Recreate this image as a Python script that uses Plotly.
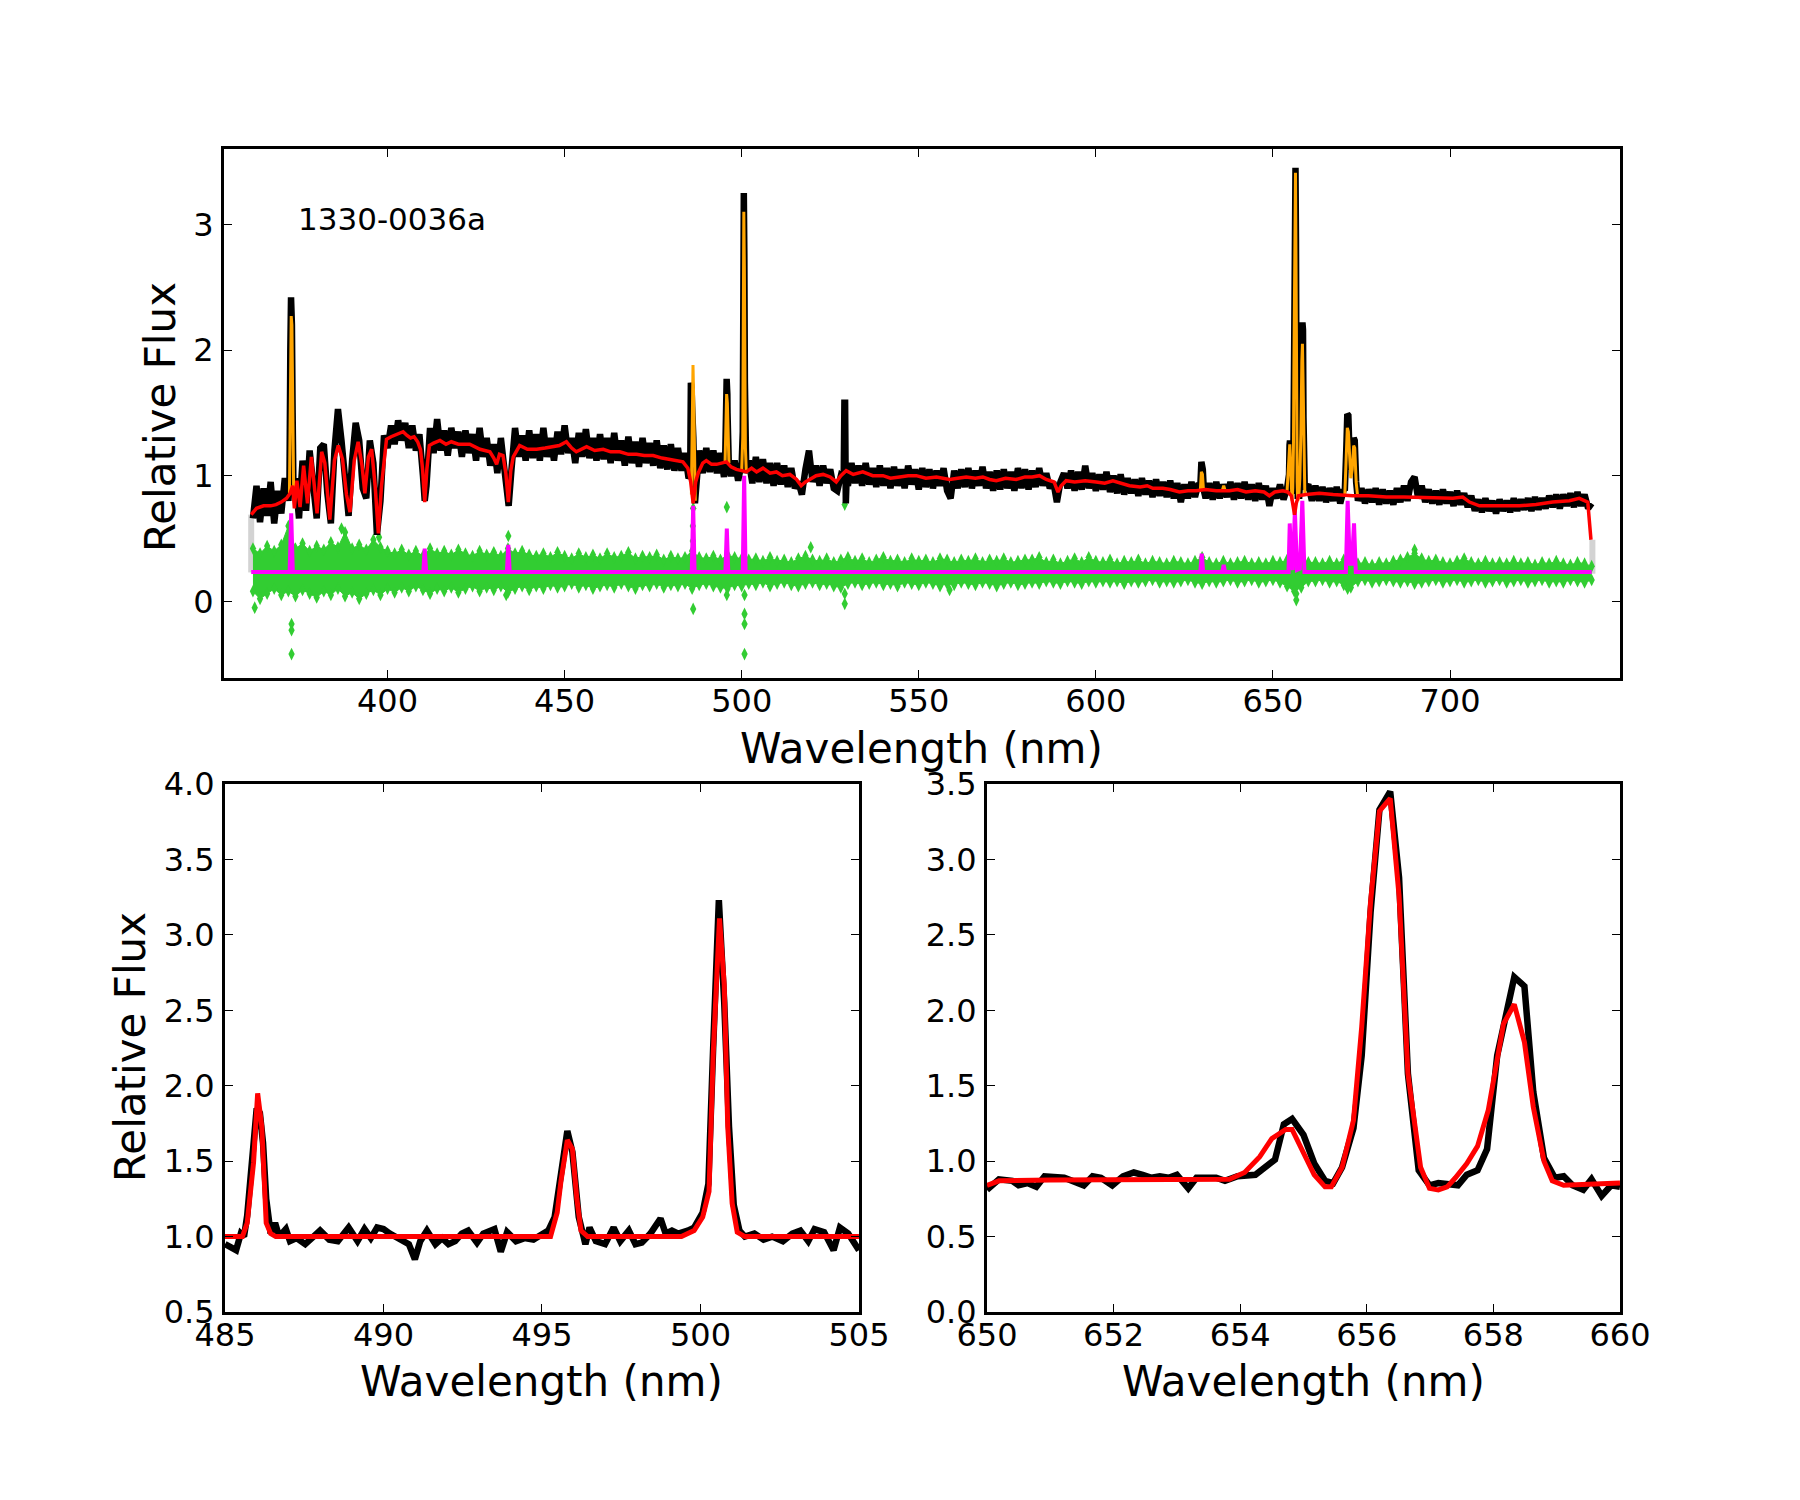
import numpy as np
import plotly.graph_objects as go

# ---------------- TOP PANEL DATA ----------------
# Observed spectrum sampled every 1 nm (row key = first wavelength of the row)
BLACK_ROWS = {
    362: [0.66, 0.92, 0.63, 0.90, 0.68, 0.95, 0.62, 0.88, 0.70, 0.98],
    372: [0.80, 2.20, 0.98, 0.66, 1.12, 0.72, 1.20, 0.88, 0.66, 1.22],
    382: [1.25, 0.86, 0.62, 1.20, 1.53, 1.28, 0.92, 0.68, 1.12, 1.42],
    392: [1.28, 0.90, 0.82, 1.28, 1.10, 0.53, 0.80, 1.32, 1.22, 1.40],
    402: [1.25, 1.44, 1.28, 1.42, 1.22, 1.40, 1.20, 1.33, 1.00, 0.92],
    412: [1.38, 1.18, 1.45, 1.20, 1.36, 1.16, 1.38, 1.22, 1.35, 1.15],
    422: [1.36, 1.18, 1.33, 1.12, 1.38, 1.15, 1.30, 1.08, 1.25, 1.02],
    432: [1.30, 1.05, 0.85, 1.05, 1.38, 1.15, 1.32, 1.12, 1.36, 1.14],
    442: [1.33, 1.12, 1.38, 1.15, 1.30, 1.12, 1.35, 1.17, 1.40, 1.18],
    452: [1.30, 1.10, 1.34, 1.15, 1.37, 1.14, 1.30, 1.12, 1.33, 1.13],
    462: [1.30, 1.10, 1.34, 1.12, 1.28, 1.08, 1.31, 1.10, 1.27, 1.07],
    472: [1.30, 1.10, 1.26, 1.08, 1.28, 1.06, 1.24, 1.05, 1.25, 1.04],
    482: [1.22, 1.04, 1.18, 0.98, 1.55, 0.85, 1.20, 1.02, 1.22, 1.03],
    492: [1.20, 1.02, 1.18, 0.99, 1.50, 1.00, 1.12, 0.96, 1.10, 1.38],
    502: [1.12, 0.94, 1.15, 0.95, 1.13, 0.94, 1.10, 0.92, 1.10, 0.93],
    512: [1.08, 0.91, 1.06, 0.90, 0.95, 0.85, 1.05, 1.20, 0.95, 1.08],
    522: [0.92, 1.08, 0.94, 1.05, 0.90, 0.88, 1.00, 1.58, 0.92, 1.10],
    532: [0.94, 1.08, 0.92, 1.10, 0.93, 1.06, 0.91, 1.08, 0.92, 1.06],
    542: [0.90, 1.07, 0.92, 1.05, 0.90, 1.08, 0.93, 1.05, 0.89, 1.06],
    552: [0.91, 1.05, 0.90, 1.04, 0.92, 1.06, 0.88, 0.82, 1.04, 0.90],
    562: [1.05, 0.91, 1.06, 0.90, 1.04, 0.92, 1.07, 0.90, 1.03, 0.88],
    572: [1.04, 0.89, 1.05, 0.90, 1.03, 0.88, 1.06, 0.90, 1.05, 0.89],
    582: [1.04, 0.91, 1.06, 0.92, 1.02, 0.90, 0.95, 0.79, 0.95, 1.02],
    592: [0.90, 1.04, 0.88, 1.03, 0.89, 1.08, 0.90, 1.02, 0.88, 1.01],
    602: [0.89, 1.03, 0.87, 1.00, 0.86, 1.01, 0.85, 0.98, 0.86, 0.97],
    612: [0.84, 0.98, 0.85, 0.96, 0.83, 0.97, 0.84, 0.95, 0.83, 0.96],
    622: [0.82, 0.94, 0.79, 0.93, 0.82, 0.95, 0.83, 0.94, 1.09, 0.82],
    632: [0.94, 0.81, 0.95, 0.82, 0.93, 0.83, 0.95, 0.81, 0.94, 0.82],
    642: [0.95, 0.81, 0.93, 0.80, 0.94, 0.81, 0.92, 0.76, 0.90, 0.82],
    652: [0.93, 0.81, 0.90, 1.175, 2.20, 0.84, 1.45, 0.89, 0.93, 0.80],
    662: [0.92, 0.80, 0.91, 0.79, 0.90, 0.80, 0.91, 0.78, 0.89, 1.49],
    672: [1.05, 1.29, 0.80, 0.90, 0.78, 0.89, 0.79, 0.90, 0.77, 0.89],
    682: [0.78, 0.88, 0.77, 0.90, 0.79, 0.92, 0.80, 0.95, 0.99, 0.82],
    692: [0.92, 0.79, 0.89, 0.78, 0.88, 0.77, 0.89, 0.78, 0.87, 0.76],
    702: [0.88, 0.77, 0.86, 0.75, 0.84, 0.72, 0.81, 0.71, 0.82, 0.72],
    712: [0.80, 0.70, 0.81, 0.72, 0.80, 0.71, 0.82, 0.72, 0.81, 0.73],
    722: [0.82, 0.72, 0.83, 0.73, 0.82, 0.74, 0.84, 0.75, 0.85, 0.74],
    732: [0.85, 0.76, 0.86, 0.75, 0.87, 0.76, 0.85, 0.74, 0.78],
}

# Sub-nm samples of the observed spectrum through the lines
BLACK_EXTRA = [
    (372.3, 0.90), (372.55, 2.00), (372.75, 2.42), (372.95, 2.40), (373.2, 1.50), (373.45, 0.85),
    (410.5, 0.80), (434.2, 0.76),
    (485.45, 1.00), (485.65, 1.74), (485.85, 1.70), (486.1, 1.50), (486.35, 1.30), (486.6, 0.95), (486.8, 0.78),
    (495.3, 1.08), (495.55, 1.40), (495.75, 1.77), (495.95, 1.65), (496.15, 1.25), (496.4, 1.05),
    (500.3, 1.35), (500.45, 2.30), (500.6, 3.25), (500.75, 2.75), (500.9, 1.75), (501.05, 1.20), (501.3, 1.02),
    (528.8, 0.98), (529.2, 1.58), (529.4, 0.78), (529.6, 0.95),
    (629.5, 0.92), (629.8, 1.11), (630.2, 1.05), (630.5, 0.88),
    (654.3, 0.95), (654.55, 1.01), (654.69, 1.245), (654.82, 1.28), (655.17, 0.985), (655.34, 0.87),
    (655.47, 0.855), (655.61, 0.96), (655.79, 1.22), (655.92, 1.70), (656.06, 2.65), (656.2, 3.33),
    (656.37, 3.45), (656.51, 2.88), (656.65, 1.58), (656.82, 0.94), (657.44, 0.84), (657.75, 0.94),
    (657.9, 1.08), (658.06, 1.70), (658.33, 2.22), (658.49, 2.16), (658.63, 1.46), (658.8, 1.02),
    (670.3, 0.88), (670.7, 1.20), (671.3, 1.48), (671.7, 1.10), (672.4, 1.15), (672.8, 1.30),
    (673.1, 1.28), (673.5, 0.95), (673.9, 0.82),
]

# Stellar continuum fit (red)
RED_TOP = [
    (361.5, 0.69), (363.0, 0.74), (365.0, 0.76), (367.0, 0.76), (368.5, 0.77), (370.0, 0.79),
    (371.5, 0.82), (372.5, 0.86), (373.2, 0.92), (373.7, 0.74), (374.4, 0.96), (375.3, 0.75),
    (376.3, 1.08), (377.4, 0.78), (378.5, 1.15), (380.1, 0.70), (381.4, 1.19), (382.3, 1.10),
    (383.7, 0.65), (385.0, 1.12), (386.1, 1.24), (387.3, 1.13), (388.4, 0.85), (389.4, 0.71),
    (390.6, 1.12), (391.7, 1.27), (392.8, 1.08), (393.6, 0.86), (394.6, 1.15), (395.5, 1.21),
    (396.5, 0.92), (397.4, 0.54), (398.3, 0.92), (399.7, 1.29), (401.0, 1.31), (402.5, 1.33),
    (404.4, 1.35), (405.5, 1.32), (406.5, 1.30), (407.5, 1.31), (408.5, 1.27), (409.3, 1.21),
    (409.9, 1.05), (410.5, 0.79), (411.1, 1.05), (411.8, 1.24), (413.0, 1.26), (414.8, 1.28),
    (416.5, 1.25), (418.0, 1.27), (420.0, 1.25), (423.2, 1.25), (426.1, 1.21), (428.9, 1.19),
    (430.0, 1.14), (430.8, 1.09), (431.6, 1.17), (432.6, 1.16), (433.4, 1.02), (434.1, 0.79),
    (434.8, 1.04), (435.5, 1.15), (437.3, 1.24), (439.5, 1.21), (442.1, 1.21), (444.5, 1.22),
    (446.7, 1.23), (448.5, 1.24), (450.5, 1.27), (452.0, 1.22), (453.3, 1.19), (456.2, 1.23),
    (458.5, 1.20), (460.9, 1.21), (463.0, 1.19), (465.6, 1.19), (468.0, 1.17), (470.3, 1.17),
    (472.5, 1.16), (475.0, 1.16), (477.5, 1.14), (479.7, 1.13), (482.0, 1.12), (483.4, 1.11),
    (484.8, 1.06), (485.6, 0.95), (486.3, 0.78), (487.0, 0.95), (487.7, 1.02), (489.0, 1.10),
    (490.0, 1.12), (491.5, 1.09), (492.9, 1.09), (494.5, 1.10), (495.7, 1.11), (497.0, 1.07),
    (498.5, 1.05), (500.0, 1.04), (501.3, 1.03), (502.8, 1.06), (504.2, 1.03), (506.0, 1.06),
    (508.0, 1.02), (509.8, 1.03), (511.5, 1.00), (513.6, 1.01), (515.5, 0.97), (516.8, 0.92),
    (518.0, 0.95), (519.2, 0.97), (521.0, 1.00), (523.0, 1.01), (525.0, 0.99), (526.7, 0.95),
    (528.0, 1.00), (529.5, 1.04), (531.5, 1.01), (534.2, 1.03), (537.0, 1.00), (539.9, 1.00),
    (542.0, 0.98), (544.6, 0.99), (547.0, 1.00), (549.3, 1.00), (552.0, 0.98), (555.0, 0.99),
    (558.7, 0.97), (561.0, 0.98), (563.4, 0.99), (566.0, 0.98), (568.1, 0.99), (570.0, 0.97),
    (571.9, 0.96), (574.5, 0.98), (577.5, 0.97), (580.0, 0.99), (582.0, 0.99), (584.1, 1.00),
    (586.0, 0.97), (588.2, 0.95), (589.3, 0.87), (590.2, 0.92), (591.6, 0.96), (594.0, 0.95),
    (597.0, 0.96), (600.1, 0.95), (602.5, 0.94), (604.8, 0.96), (607.0, 0.94), (609.5, 0.92),
    (612.5, 0.91), (614.5, 0.92), (616.1, 0.90), (618.9, 0.90), (621.0, 0.89), (623.6, 0.87),
    (626.0, 0.88), (628.3, 0.88), (631.0, 0.89), (634.0, 0.88), (637.7, 0.88), (640.0, 0.89),
    (642.4, 0.87), (645.0, 0.88), (647.5, 0.87), (649.0, 0.84), (650.5, 0.87), (652.8, 0.88),
    (654.2, 0.87), (655.2, 0.84), (655.7, 0.76), (656.1, 0.69), (656.6, 0.78), (657.2, 0.84),
    (659.4, 0.85), (663.1, 0.86), (667.0, 0.85), (672.5, 0.84), (677.0, 0.84), (682.0, 0.83),
    (687.0, 0.83), (691.4, 0.825), (696.0, 0.82), (700.8, 0.82), (703.6, 0.83), (705.5, 0.79),
    (708.3, 0.76), (711.5, 0.76), (714.9, 0.76), (719.6, 0.76), (724.3, 0.77), (729.0, 0.79),
    (733.7, 0.80), (736.5, 0.82), (738.9, 0.79), (739.8, 0.49),
]

# Emission-line model on top of the continuum (orange), one list per line group
ORANGE_SEGMENTS = [
    [(372.3, 0.86), (372.55, 1.70), (372.8, 2.27), (373.0, 2.20), (373.25, 1.40), (373.5, 0.86)],
    [(485.8, 0.85), (486.05, 1.30), (486.25, 1.88), (486.45, 1.60), (486.7, 0.95), (486.9, 0.80)],
    [(495.3, 1.10), (495.55, 1.35), (495.75, 1.65), (495.95, 1.58), (496.15, 1.25), (496.4, 1.10)],
    [(500.0, 1.04), (500.3, 1.30), (500.45, 2.20), (500.6, 3.10), (500.75, 2.67), (500.9, 1.73),
     (501.05, 1.22), (501.3, 1.03)],
    [(629.5, 0.88), (629.8, 1.03), (630.1, 1.01), (630.4, 0.88)],
    [(635.7, 0.88), (636.1, 0.92), (636.5, 0.88)],
    [(654.0, 0.88), (654.3, 1.00), (654.5, 1.15), (654.75, 1.25), (655.0, 1.06), (655.2, 0.88),
     (655.4, 0.80), (655.6, 0.90), (655.8, 1.25), (655.92, 1.85), (656.06, 2.70), (656.2, 3.32),
     (656.37, 3.41), (656.51, 2.76), (656.65, 1.58), (656.85, 0.95), (657.0, 0.80), (657.3, 0.83),
     (657.6, 0.98), (657.9, 1.34), (658.16, 1.91), (658.33, 2.05), (658.49, 1.79), (658.63, 1.36),
     (658.8, 1.00), (659.0, 0.86), (659.3, 0.84)],
    [(670.3, 0.85), (670.7, 1.15), (671.0, 1.38), (671.3, 1.35), (671.7, 1.05), (672.0, 0.98),
     (672.4, 1.05), (672.8, 1.24), (673.1, 1.22), (673.5, 0.95), (673.9, 0.84)],
]

# Emission-line-only model, offset (magenta)
MAGENTA = [
    (361.5, 0.233), (372.35, 0.233), (372.8, 0.70), (373.25, 0.233),
    (410.1, 0.233), (410.5, 0.42), (410.9, 0.233),
    (433.7, 0.233), (434.1, 0.45), (434.5, 0.233),
    (485.9, 0.233), (486.3, 0.76), (486.7, 0.233),
    (495.4, 0.233), (495.8, 0.58), (496.2, 0.233),
    (500.3, 0.233), (500.7, 1.00), (501.1, 0.233),
    (629.5, 0.233), (629.9, 0.38), (630.3, 0.233),
    (635.7, 0.233), (636.1, 0.29), (636.5, 0.233),
    (654.4, 0.233), (654.75, 0.62), (655.2, 0.30), (655.6, 0.25), (656.2, 0.72), (656.8, 0.25),
    (657.6, 0.26), (658.3, 0.80), (658.9, 0.233),
    (670.6, 0.233), (671.1, 0.80), (671.7, 0.30), (672.3, 0.30), (672.9, 0.62), (673.4, 0.233),
    (740.0, 0.233),
]

# Residuals band (green): upper / lower envelope every 2 nm (row key = first wavelength)
GREEN_UPPER = {
    362: [0.42, 0.38, 0.44, 0.40, 0.45, 0.60, 0.42, 0.46, 0.40, 0.44],
    382: [0.41, 0.47, 0.43, 0.55, 0.42, 0.45, 0.41, 0.49, 0.43, 0.40],
    402: [0.38, 0.41, 0.37, 0.40, 0.36, 0.42, 0.38, 0.40, 0.37, 0.41],
    422: [0.38, 0.36, 0.40, 0.37, 0.39, 0.36, 0.42, 0.38, 0.40, 0.37],
    442: [0.36, 0.38, 0.35, 0.39, 0.36, 0.34, 0.38, 0.35, 0.37, 0.34],
    462: [0.38, 0.35, 0.36, 0.39, 0.34, 0.36, 0.35, 0.37, 0.33, 0.36],
    482: [0.34, 0.35, 0.40, 0.35, 0.34, 0.36, 0.33, 0.37, 0.35, 0.34],
    502: [0.33, 0.34, 0.32, 0.35, 0.32, 0.33, 0.31, 0.34, 0.36, 0.33],
    522: [0.32, 0.34, 0.31, 0.33, 0.35, 0.32, 0.34, 0.31, 0.33, 0.35],
    542: [0.32, 0.33, 0.31, 0.34, 0.32, 0.33, 0.31, 0.34, 0.33, 0.31],
    562: [0.33, 0.32, 0.34, 0.31, 0.33, 0.32, 0.34, 0.31, 0.32, 0.33],
    582: [0.33, 0.35, 0.31, 0.33, 0.30, 0.32, 0.34, 0.31, 0.35, 0.32],
    602: [0.31, 0.33, 0.30, 0.32, 0.31, 0.33, 0.30, 0.32, 0.31, 0.30],
    622: [0.32, 0.31, 0.30, 0.32, 0.35, 0.31, 0.30, 0.32, 0.30, 0.31],
    642: [0.32, 0.30, 0.31, 0.30, 0.32, 0.31, 0.33, 0.36, 0.34, 0.31],
    662: [0.31, 0.30, 0.32, 0.30, 0.33, 0.35, 0.30, 0.31, 0.29, 0.31],
    682: [0.30, 0.32, 0.33, 0.35, 0.38, 0.34, 0.32, 0.33, 0.31, 0.30],
    702: [0.32, 0.34, 0.31, 0.30, 0.32, 0.30, 0.31, 0.30, 0.32, 0.30],
    722: [0.31, 0.29, 0.31, 0.30, 0.32, 0.30, 0.29, 0.31, 0.30, 0.28],
}
GREEN_LOWER = {
    362: [0.08, 0.02, 0.06, 0.10, 0.05, 0.08, 0.04, 0.09, 0.06, 0.03],
    382: [0.08, 0.05, 0.10, 0.04, 0.07, 0.02, 0.06, 0.09, 0.05, 0.10],
    402: [0.07, 0.11, 0.08, 0.12, 0.09, 0.06, 0.10, 0.08, 0.11, 0.07],
    422: [0.10, 0.12, 0.08, 0.11, 0.09, 0.12, 0.07, 0.10, 0.12, 0.09],
    442: [0.12, 0.10, 0.13, 0.11, 0.12, 0.14, 0.11, 0.13, 0.10, 0.12],
    462: [0.13, 0.11, 0.14, 0.12, 0.10, 0.13, 0.12, 0.14, 0.11, 0.13],
    482: [0.12, 0.14, 0.10, 0.13, 0.14, 0.12, 0.11, 0.10, 0.13, 0.12],
    502: [0.14, 0.13, 0.15, 0.12, 0.14, 0.15, 0.13, 0.12, 0.14, 0.15],
    522: [0.13, 0.14, 0.12, 0.11, 0.14, 0.15, 0.13, 0.14, 0.15, 0.13],
    542: [0.14, 0.12, 0.15, 0.14, 0.13, 0.15, 0.14, 0.12, 0.14, 0.13],
    562: [0.15, 0.14, 0.13, 0.15, 0.14, 0.12, 0.14, 0.15, 0.13, 0.14],
    582: [0.15, 0.14, 0.16, 0.15, 0.14, 0.16, 0.15, 0.14, 0.16, 0.15],
    602: [0.16, 0.15, 0.16, 0.14, 0.16, 0.15, 0.16, 0.17, 0.15, 0.16],
    622: [0.15, 0.16, 0.17, 0.15, 0.14, 0.16, 0.15, 0.16, 0.17, 0.15],
    642: [0.16, 0.17, 0.15, 0.16, 0.17, 0.15, 0.12, 0.08, 0.11, 0.16],
    662: [0.16, 0.17, 0.15, 0.16, 0.13, 0.11, 0.16, 0.17, 0.15, 0.16],
    682: [0.17, 0.16, 0.15, 0.16, 0.14, 0.15, 0.16, 0.17, 0.15, 0.16],
    702: [0.17, 0.15, 0.16, 0.17, 0.15, 0.16, 0.17, 0.15, 0.16, 0.17],
    722: [0.15, 0.16, 0.17, 0.15, 0.16, 0.15, 0.17, 0.16, 0.15, 0.17],
}
GREEN_OUTLIERS = [
    (362.5, -0.05), (372.9, -0.18), (372.9, -0.23), (372.9, -0.42), (387.0, 0.58), (397.6, 0.51),
    (434.1, 0.52), (433.5, 0.05), (486.3, 0.74), (486.2, 0.60), (486.2, 0.48), (486.3, -0.06),
    (495.8, 0.75), (495.8, 0.05), (500.8, 0.05), (500.8, -0.10), (500.8, -0.18), (500.8, -0.42),
    (519.5, 0.43), (529.1, 0.77), (529.1, 0.06), (529.1, -0.02), (558.7, 0.09), (656.6, 0.01),
    (656.6, 0.06), (671.1, 0.10), (690.0, 0.41),
]

# Light-grey mask ends
GREY = [(361.5, 0.23), (361.5, 0.69), (None, None), (740.2, 0.22), (740.2, 0.49)]

TOP_XTICKS = [400, 450, 500, 550, 600, 650, 700]
TOP_YTICKS = [0, 1, 2, 3]
OBJECT_NAME = "1330-0036a"

# ---------------- BOTTOM LEFT (H-beta / [OIII]) ----------------
BL_BLACK = [
    (485.0, 0.95), (485.15, 0.93), (485.35, 0.91), (485.5, 1.02), (485.6, 1.00), (485.7, 1.14),
    (485.85, 1.55), (486.0, 1.85), (486.1, 1.82), (486.2, 1.62), (486.3, 1.25), (486.44, 1.02),
    (486.58, 1.09), (486.71, 1.00), (486.92, 1.05), (487.05, 0.97), (487.26, 0.99), (487.53, 0.95),
    (487.74, 0.99), (488.0, 1.04), (488.29, 0.98), (488.56, 0.97), (488.9, 1.06), (489.18, 0.97),
    (489.4, 1.05), (489.6, 0.99), (489.8, 1.06), (490.0, 1.05), (490.2, 1.02), (490.4, 1.00),
    (490.6, 0.97), (490.8, 0.95), (490.99, 0.85), (491.16, 0.97), (491.37, 1.04), (491.64, 0.95),
    (491.85, 0.99), (492.05, 0.95), (492.26, 0.97), (492.47, 1.02), (492.67, 1.04), (492.95, 0.96),
    (493.15, 1.02), (493.5, 1.05), (493.7, 0.90), (493.9, 1.03), (494.18, 0.97), (494.45, 0.99),
    (494.73, 0.98), (495.0, 1.02), (495.2, 1.04), (495.4, 1.13), (495.6, 1.45), (495.8, 1.70),
    (495.96, 1.56), (496.16, 1.13), (496.37, 0.95), (496.5, 1.06), (496.7, 0.97), (496.99, 0.95),
    (497.26, 1.06), (497.47, 0.97), (497.74, 1.04), (497.95, 0.95), (498.15, 0.96), (498.42, 1.02),
    (498.74, 1.12), (498.9, 1.02), (499.1, 1.04), (499.3, 1.02), (499.6, 1.04), (499.8, 1.06),
    (500.07, 1.16), (500.25, 1.35), (500.4, 2.25), (500.58, 3.23), (500.75, 2.55), (500.9, 1.73),
    (501.05, 1.21), (501.23, 1.04), (501.4, 1.00), (501.7, 1.02), (501.99, 0.98), (502.26, 1.00),
    (502.6, 0.97), (502.9, 1.02), (503.15, 1.04), (503.4, 0.97), (503.6, 1.05), (503.9, 1.03),
    (504.2, 0.91), (504.4, 1.06), (504.66, 1.02), (504.86, 0.95), (505.0, 0.91),
]
BL_RED = [
    (485.0, 1.00), (485.55, 1.00), (485.7, 1.09), (485.9, 1.49), (486.03, 1.95), (486.16, 1.73),
    (486.3, 1.09), (486.44, 1.02), (486.6, 1.00), (495.27, 1.00), (495.48, 1.16), (495.6, 1.37),
    (495.8, 1.64), (495.96, 1.58), (496.1, 1.25), (496.23, 1.04), (496.44, 1.00), (499.4, 1.00),
    (499.8, 1.04), (500.07, 1.13), (500.27, 1.30), (500.4, 2.20), (500.6, 3.11), (500.75, 2.67),
    (500.86, 1.73), (501.0, 1.22), (501.16, 1.03), (501.4, 1.00), (505.0, 1.00),
]
BL_XTICKS = [485, 490, 495, 500, 505]
BL_YTICKS = [0.5, 1.0, 1.5, 2.0, 2.5, 3.0, 3.5, 4.0]

# ---------------- BOTTOM RIGHT (H-alpha / [NII]) ----------------
BR_BLACK = [
    (650.0, 0.81), (650.19, 0.88), (650.4, 0.87), (650.5, 0.84), (650.64, 0.855), (650.78, 0.83),
    (650.91, 0.90), (651.22, 0.89), (651.53, 0.84), (651.67, 0.90), (651.8, 0.89), (651.98, 0.84),
    (652.15, 0.90), (652.32, 0.925), (652.46, 0.91), (652.6, 0.89), (652.73, 0.90), (652.87, 0.89),
    (653.0, 0.91), (653.18, 0.82), (653.31, 0.89), (653.62, 0.89), (653.76, 0.87), (653.96, 0.90),
    (654.24, 0.91), (654.38, 0.95), (654.55, 1.01), (654.69, 1.245), (654.82, 1.28), (655.0, 1.175),
    (655.17, 0.985), (655.34, 0.87), (655.47, 0.855), (655.61, 0.96), (655.79, 1.22), (655.92, 1.70),
    (656.06, 2.65), (656.2, 3.33), (656.37, 3.45), (656.51, 2.88), (656.65, 1.58), (656.82, 0.94),
    (656.99, 0.84), (657.13, 0.855), (657.44, 0.84), (657.58, 0.91), (657.75, 0.94), (657.9, 1.08),
    (658.06, 1.70), (658.33, 2.22), (658.49, 2.16), (658.63, 1.46), (658.8, 1.02), (658.97, 0.89),
    (659.11, 0.90), (659.25, 0.84), (659.42, 0.81), (659.55, 0.88), (659.71, 0.77), (659.86, 0.84),
    (660.0, 0.83),
]
BR_RED = [
    (650.0, 0.84), (650.19, 0.87), (651.0, 0.875), (652.0, 0.875), (653.0, 0.875), (653.83, 0.88),
    (654.07, 0.925), (654.31, 1.03), (654.5, 1.15), (654.72, 1.21), (654.82, 1.21), (655.0, 1.056),
    (655.17, 0.91), (655.34, 0.83), (655.44, 0.83), (655.61, 0.96), (655.79, 1.27), (655.92, 1.89),
    (656.06, 2.72), (656.2, 3.32), (656.37, 3.405), (656.51, 2.76), (656.65, 1.58), (656.85, 0.96),
    (656.99, 0.82), (657.13, 0.81), (657.27, 0.83), (657.4, 0.89), (657.58, 0.985), (657.75, 1.10),
    (657.92, 1.34), (658.16, 1.91), (658.33, 2.04), (658.49, 1.79), (658.63, 1.36), (658.8, 1.00),
    (658.93, 0.87), (659.11, 0.84), (660.0, 0.855),
]
BR_XTICKS = [650, 652, 654, 656, 658, 660]
BR_YTICKS = [0.0, 0.5, 1.0, 1.5, 2.0, 2.5, 3.0, 3.5]

# ---------------- assemble ----------------
def unzip(pairs):
    return [p[0] for p in pairs], [p[1] for p in pairs]

def rows_to_xy(rows, step):
    xs, ys = [], []
    for start in sorted(rows):
        for i, v in enumerate(rows[start]):
            xs.append(start + i * step)
            ys.append(v)
    return xs, ys

bx, by = rows_to_xy(BLACK_ROWS, 1.0)
ex, ey = unzip(BLACK_EXTRA)
allx = np.array(bx + ex)
ally = np.array(by + ey)
order = np.argsort(allx, kind="stable")
black_x, black_y = allx[order], ally[order]

gux, guy = rows_to_xy(GREEN_UPPER, 2.0)
glx, gly = rows_to_xy(GREEN_LOWER, 2.0)
gox, goy = unzip(GREEN_OUTLIERS)

orx, ory = [], []
for seg in ORANGE_SEGMENTS:
    sx, sy = unzip(seg)
    orx += sx + [None]
    ory += sy + [None]

mx, my = unzip(MAGENTA)
rx, ry = unzip(RED_TOP)
grx, gry = unzip(GREY)

GREEN = "#32CD32"
FONT = "DejaVu Sans"

fig = go.Figure()
# top panel
fig.add_trace(go.Scatter(x=grx, y=gry, mode="lines", line=dict(color="lightgray", width=6),
                         xaxis="x", yaxis="y", hoverinfo="skip"))
fig.add_trace(go.Scatter(x=glx, y=gly, mode="lines+markers", line=dict(color=GREEN, width=1),
                         marker=dict(symbol="diamond-tall", size=9, color=GREEN, line=dict(width=0)),
                         xaxis="x", yaxis="y"))
fig.add_trace(go.Scatter(x=gux, y=guy, mode="lines+markers", line=dict(color=GREEN, width=1),
                         fill="tonexty", fillcolor=GREEN,
                         marker=dict(symbol="diamond-tall", size=9, color=GREEN, line=dict(width=0)),
                         xaxis="x", yaxis="y"))
fig.add_trace(go.Scatter(x=gox, y=goy, mode="markers",
                         marker=dict(symbol="diamond-tall", size=9, color=GREEN, line=dict(width=0)),
                         xaxis="x", yaxis="y"))
fig.add_trace(go.Scatter(x=mx, y=my, mode="lines", line=dict(color="#FF00FF", width=4),
                         xaxis="x", yaxis="y"))
fig.add_trace(go.Scatter(x=black_x, y=black_y, mode="lines", line=dict(color="black", width=6.5),
                         xaxis="x", yaxis="y"))
fig.add_trace(go.Scatter(x=orx, y=ory, mode="lines", line=dict(color="#FFA500", width=3),
                         xaxis="x", yaxis="y"))
fig.add_trace(go.Scatter(x=rx, y=ry, mode="lines", line=dict(color="red", width=3.5),
                         xaxis="x", yaxis="y"))

# bottom left
x, y = unzip(BL_BLACK)
fig.add_trace(go.Scatter(x=x, y=y, mode="lines", line=dict(color="black", width=6.5),
                         xaxis="x2", yaxis="y2"))
x, y = unzip(BL_RED)
fig.add_trace(go.Scatter(x=x, y=y, mode="lines", line=dict(color="red", width=5),
                         xaxis="x2", yaxis="y2"))
# bottom right
x, y = unzip(BR_BLACK)
fig.add_trace(go.Scatter(x=x, y=y, mode="lines", line=dict(color="black", width=6.5),
                         xaxis="x3", yaxis="y3"))
x, y = unzip(BR_RED)
fig.add_trace(go.Scatter(x=x, y=y, mode="lines", line=dict(color="red", width=5),
                         xaxis="x3", yaxis="y3"))

axis_common = dict(showline=True, linecolor="black", linewidth=3, mirror="ticks",
                   ticks="inside", ticklen=8, tickwidth=1.2, tickcolor="black",
                   showgrid=False, zeroline=False, automargin=False,
                   tickfont=dict(family=FONT, size=32, color="black"))
XSO = -7
YSO = 1

fig.update_layout(
    width=1800, height=1500, margin=dict(l=0, r=0, t=0, b=0, autoexpand=False),
    paper_bgcolor="white", plot_bgcolor="white", showlegend=False,
    xaxis=dict(domain=[0.1244, 0.9], anchor="y", range=[353.8, 748.0],
               tickvals=TOP_XTICKS, ticklabelstandoff=XSO, **axis_common),
    yaxis=dict(domain=[0.548, 0.9007], anchor="x", range=[-0.61, 3.6],
               tickvals=TOP_YTICKS, ticklabelstandoff=YSO, **axis_common),
    xaxis2=dict(domain=[0.125, 0.4772], anchor="y2", range=[485, 505],
                tickvals=BL_XTICKS, ticklabelstandoff=XSO, **axis_common),
    yaxis2=dict(domain=[0.1253, 0.4773], anchor="x2", range=[0.5, 4.0],
                tickvals=BL_YTICKS, tickformat=".1f", ticklabelstandoff=YSO, **axis_common),
    xaxis3=dict(domain=[0.5483, 0.9], anchor="y3", range=[650, 660],
                tickvals=BR_XTICKS, ticklabelstandoff=XSO, **axis_common),
    yaxis3=dict(domain=[0.1253, 0.4773], anchor="x3", range=[0.0, 3.5],
                tickvals=BR_YTICKS, tickformat=".1f", ticklabelstandoff=YSO, **axis_common),
)

title_font = dict(family=FONT, size=42, color="black")
annotations = [
    dict(text="Relative Flux", x=0.0889, y=0.722, xref="paper", yref="paper", textangle=-90,
         showarrow=False, font=title_font, xanchor="center", yanchor="middle"),
    dict(text="Wavelength (nm)", x=0.5122, y=0.5013, xref="paper", yref="paper",
         showarrow=False, font=title_font, xanchor="center", yanchor="middle"),
    dict(text="Relative Flux", x=0.0722, y=0.302, xref="paper", yref="paper", textangle=-90,
         showarrow=False, font=title_font, xanchor="center", yanchor="middle"),
    dict(text="Wavelength (nm)", x=0.3011, y=0.0793, xref="paper", yref="paper",
         showarrow=False, font=title_font, xanchor="center", yanchor="middle"),
    dict(text="Wavelength (nm)", x=0.7239, y=0.0793, xref="paper", yref="paper",
         showarrow=False, font=title_font, xanchor="center", yanchor="middle"),
    dict(text=OBJECT_NAME, x=374.1, y=3.04, xref="x", yref="y", showarrow=False,
         font=dict(family=FONT, size=31, color="black"), xanchor="left", yanchor="middle"),
]
fig.update_layout(annotations=annotations)

fig.write_html("out.html")
